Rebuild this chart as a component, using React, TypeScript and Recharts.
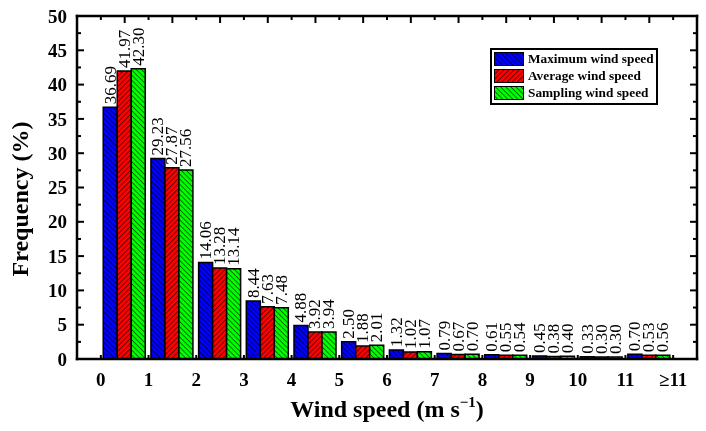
import { Bar, ComposedChart, LabelList, Legend, Line, XAxis, YAxis } from "recharts";

const binCenters = [0.5, 1.5, 2.5, 3.5, 4.5, 5.5, 6.5, 7.5, 8.5, 9.5, 10.5, 11.5];
const maxSpeed = [36.69, 29.23, 14.06, 8.44, 4.88, 2.5, 1.32, 0.79, 0.61, 0.45, 0.33, 0.7];
const avgSpeed = [41.97, 27.87, 13.28, 7.63, 3.92, 1.88, 1.02, 0.67, 0.55, 0.38, 0.3, 0.53];
const samplingSpeed = [42.3, 27.56, 13.14, 7.48, 3.94, 2.01, 1.07, 0.7, 0.54, 0.4, 0.3, 0.56];

const xTickValues = [0, 1, 2, 3, 4, 5, 6, 7, 8, 9, 10, 11, 12];
const xTickLabels = ["0", "1", "2", "3", "4", "5", "6", "7", "8", "9", "10", "11", "≥11"];
const topTickValues = [0, 0.5, 1, 1.5, 2, 2.5, 3, 3.5, 4, 4.5, 5, 5.5, 6, 6.5, 7, 7.5, 8, 8.5, 9, 9.5, 10, 10.5, 11, 11.5, 12];
const yTickValues = [0, 2.5, 5, 7.5, 10, 12.5, 15, 17.5, 20, 22.5, 25, 27.5, 30, 32.5, 35, 37.5, 40, 42.5, 45, 47.5, 50];

const series = [
  { key: "max", name: "Maximum wind speed", fill: "url(#hatchBlue)" },
  { key: "avg", name: "Average wind speed", fill: "url(#hatchRed)" },
  { key: "sampling", name: "Sampling wind speed", fill: "url(#hatchGreen)" },
];

const rows = binCenters.map((center, i) => ({
  center,
  max: maxSpeed[i],
  avg: avgSpeed[i],
  sampling: samplingSpeed[i],
}));

const FONT = "'Liberation Serif', 'Times New Roman', Times, serif";
const AXIS_LINE = { stroke: "#000", strokeWidth: 2.5, strokeLinecap: "square" as const };

function LeftTick(props: any) {
  const { x, y, payload } = props;
  const major = payload.value % 5 === 0;
  return (
    <g>
      <line x1={x} x2={x + (major ? 7 : 4)} y1={y} y2={y} stroke="#000" strokeWidth={2} />
      {major && (
        <text x={x - 10} y={y} dy="0.35em" textAnchor="end" fontFamily={FONT} fontWeight="bold" fontSize={19} fill="#000">
          {payload.value}
        </text>
      )}
    </g>
  );
}

function RightTick(props: any) {
  const { x, y, payload } = props;
  const major = payload.value % 5 === 0;
  return <line x1={x} x2={x - (major ? 7 : 4)} y1={y} y2={y} stroke="#000" strokeWidth={2} />;
}

function TopTick(props: any) {
  const { x, y, payload } = props;
  const major = payload.value % 1 !== 0;
  return <line x1={x} x2={x} y1={y} y2={y + (major ? 7 : 4)} stroke="#000" strokeWidth={2} />;
}

function BottomTick(props: any) {
  const { x, y, payload } = props;
  const idx = xTickValues.indexOf(payload.value);
  return (
    <g>
      <line x1={x} x2={x} y1={y} y2={y - 4} stroke="#000" strokeWidth={2} />
      <text x={x} y={y + 27} textAnchor="middle" fontFamily={FONT} fontWeight="bold" fontSize={19} fill="#000">
        {idx >= 0 ? xTickLabels[idx] : payload.value}
      </text>
    </g>
  );
}

function ValueLabel(props: any) {
  const { x, y, width, value } = props;
  const cx = x + width / 2;
  const cy = y - 3;
  return (
    <text
      x={cx}
      y={cy}
      transform={`rotate(-90, ${cx}, ${cy})`}
      textAnchor="start"
      dominantBaseline="central"
      fontFamily={FONT}
      fontSize={17}
      fill="#000"
    >
      {Number(value).toFixed(2)}
    </text>
  );
}

function LegendBox() {
  return (
    <div
      style={{
        border: "2px solid #000",
        background: "#fff",
        padding: "2px 2px 3px 2px",
        fontFamily: FONT,
        fontWeight: "bold",
        fontSize: 13.3,
        lineHeight: "14px",
        color: "#000",
      }}
    >
      {series.map((s, i) => (
        <div key={s.key} style={{ display: "flex", alignItems: "center", height: 14, marginTop: i ? 3 : 0 }}>
          <svg width={30} height={14} style={{ display: "block" }}>
            <rect x={0.5} y={0.5} width={29} height={13} fill={s.fill} stroke="#000" strokeWidth={1} />
          </svg>
          <span style={{ marginLeft: 4, whiteSpace: "nowrap" }}>{s.name}</span>
        </div>
      ))}
    </div>
  );
}

function Hatch({ id, color, angle }: { id: string; color: string; angle: number }) {
  return (
    <pattern id={id} patternUnits="userSpaceOnUse" width={3.6} height={3.6} patternTransform={`rotate(${angle})`}>
      <rect width={3.6} height={3.6} fill={color} />
      <line x1={0} y1={0} x2={0} y2={3.6} stroke="#000" strokeWidth={1.1} />
    </pattern>
  );
}

export default function App() {
  return (
    <div style={{ position: "fixed", left: 0, top: 0 }}>
      <ComposedChart
        width={706}
        height={431}
        data={rows}
        margin={{ top: 15, right: 8, bottom: 0, left: 0 }}
        barCategoryGap="5%"
        barGap={0}
      >
        <defs>
          <Hatch id="hatchBlue" color="#0000ff" angle={-45} />
          <Hatch id="hatchRed" color="#ff0000" angle={45} />
          <Hatch id="hatchGreen" color="#00ff00" angle={-45} />
        </defs>
        <XAxis
          xAxisId="num"
          dataKey="center"
          type="number"
          domain={[-0.5, 12.5]}
          allowDataOverflow
          ticks={xTickValues}
          interval={0}
          height={72}
          tickSize={0}
          tickMargin={0}
          tickLine={false}
          axisLine={AXIS_LINE}
          tick={(p: any) => <BottomTick {...p} />}
          label={{
            content: (p: any) => {
              const vb = p.viewBox;
              return (
                <text x={vb.x + vb.width / 2} y={vb.y + 58} textAnchor="middle" fontFamily={FONT} fontWeight="bold" fontSize={24} fill="#000">
                  Wind speed (m s
                  <tspan fontSize={15} dy={-10}>−1</tspan>
                  <tspan dy={10}>)</tspan>
                </text>
              );
            },
          }}
        />
        <XAxis
          xAxisId="top"
          dataKey="center"
          orientation="top"
          type="number"
          domain={[-0.5, 12.5]}
          allowDataOverflow
          ticks={topTickValues}
          interval={0}
          height={1}
          tickSize={0}
          tickMargin={0}
          tickLine={false}
          axisLine={AXIS_LINE}
          tick={(p: any) => <TopTick {...p} />}
        />
        <YAxis
          yAxisId="left"
          domain={[0, 50]}
          allowDataOverflow
          ticks={yTickValues}
          interval={0}
          width={77}
          tickSize={0}
          tickMargin={0}
          tickLine={false}
          axisLine={AXIS_LINE}
          tick={(p: any) => <LeftTick {...p} />}
          label={{
            content: (p: any) => {
              const vb = p.viewBox;
              const lx = vb.x + 28;
              const ly = 199;
              return (
                <text x={lx} y={ly} transform={`rotate(-90, ${lx}, ${ly})`} textAnchor="middle" fontFamily={FONT} fontWeight="bold" fontSize={24} fill="#000">
                  Frequency (%)
                </text>
              );
            },
          }}
        />
        <YAxis
          yAxisId="right"
          orientation="right"
          domain={[0, 50]}
          allowDataOverflow
          ticks={yTickValues}
          interval={0}
          width={1}
          tickSize={0}
          tickMargin={0}
          tickLine={false}
          axisLine={AXIS_LINE}
          tick={(p: any) => <RightTick {...p} />}
        />
        <Legend
          layout="horizontal"
          verticalAlign="middle"
          align="center"
          wrapperStyle={{ left: 490, top: 48, width: "auto", height: "auto" }}
          content={() => <LegendBox />}
        />
        {series.map((s) => (
          <Bar
            key={s.key}
            xAxisId="num"
            yAxisId="left"
            dataKey={s.key}
            name={s.name}
            fill={s.fill}
            stroke="#000"
            strokeWidth={1.5}
            isAnimationActive={false}
          >
            <LabelList dataKey={s.key} content={(p: any) => <ValueLabel {...p} />} />
          </Bar>
        ))}
        {/* invisible series so the frame axes (top / right) get a domain */}
        <Line
          xAxisId="top"
          yAxisId="right"
          dataKey="max"
          stroke="none"
          dot={false}
          activeDot={false}
          legendType="none"
          isAnimationActive={false}
        />
      </ComposedChart>
    </div>
  );
}
